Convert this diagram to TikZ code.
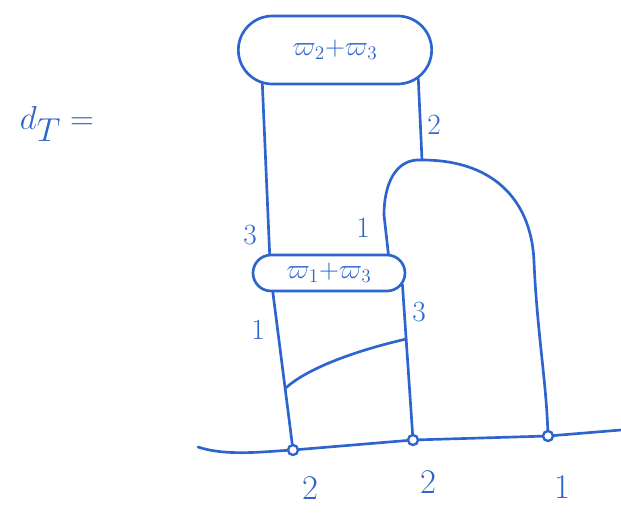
\documentclass[tikz,border=0pt]{standalone}
\usepackage{amssymb,mathtools}
\usepackage{tikz}
\usetikzlibrary{shapes.misc,calc}
\usepackage{xcolor}
\definecolor{ink}{RGB}{45,100,205}

\begin{document}
\begin{tikzpicture}[
  x=0.75pt,y=-0.75pt,
  line width=2pt,
  every node/.style={text=ink},
  weight/.style={rounded rectangle,draw=ink,line width=2pt,inner sep=0pt,
    font=\fontsize{20}{24}\selectfont},
  vertex/.style={circle,draw=ink,fill=white,line width=1.8pt,inner sep=0pt,
    minimum size=7.5pt},
  strand/.style={draw=ink,line cap=round},
  mult/.style={font=\fontsize{22}{26}\selectfont},
  endlabel/.style={font=\fontsize{26}{30}\selectfont}
]
  \useasboundingbox (0,0) rectangle (621,518);

  % Left-hand side.
  \node[font=\fontsize{36}{42}\selectfont] (lhs) at (57,124) {$d_T=$};

  % The two weight boxes.
  \node[weight,minimum width=145pt,minimum height=51pt] (top) at (335,50)
    {$\varpi_2{+}\varpi_3$};
  \node[weight,minimum width=114pt,minimum height=27pt] (low) at (329,273)
    {$\varpi_1{+}\varpi_3$};

  % Boundary points.
  \node[vertex] (b1) at (293,450) {};
  \node[vertex] (b2) at (413,440) {};
  \node[vertex] (b3) at (548,436) {};
  \coordinate (bw) at (198,447);
  \coordinate (be) at (621,430);
  \draw[strand] (bw) .. controls (225,456) and (260,452) .. (b1)
    -- (b2) -- (b3) -- (be);
  \node[endlabel] (e1) at (310,488) {2};
  \node[endlabel] (e2) at (428,482) {2};
  \node[endlabel] (e3) at (562,487) {1};

  % Strands between the boxes.
  \coordinate (split) at (422,160);
  \draw[strand] (top.-155) -- (low.162);
  \draw[strand] (top.-19) -- (split);
  \draw[strand] (split) .. controls (395,158) and (384,185) .. (384,215)
    -- (low.18);
  \draw[strand] (split) .. controls (498,160) and (532,205) .. (534,262)
    .. controls (537,330) and (546,380) .. (b3);
  \node[mult] (m3a) at (250,235) {3};
  \node[mult] (m1a) at (363,228) {1};
  \node[mult] (m2) at (434,125) {2};

  % Strands below the lower box, with the rung.
  \draw[strand] (low.199) -- (b1);
  \draw[strand] (low.-9) -- (b2);
  \coordinate (c1) at ($(low.199)!0.61!(b1)$);
  \coordinate (c2) at ($(low.-9)!0.35!(b2)$);
  \draw[strand] (c1) .. controls (305,370) and (350,352) .. (c2);
  \node[mult] (m1b) at (258,330) {1};
  \node[mult] (m3b) at (419,312) {3};
\end{tikzpicture}
\end{document}
